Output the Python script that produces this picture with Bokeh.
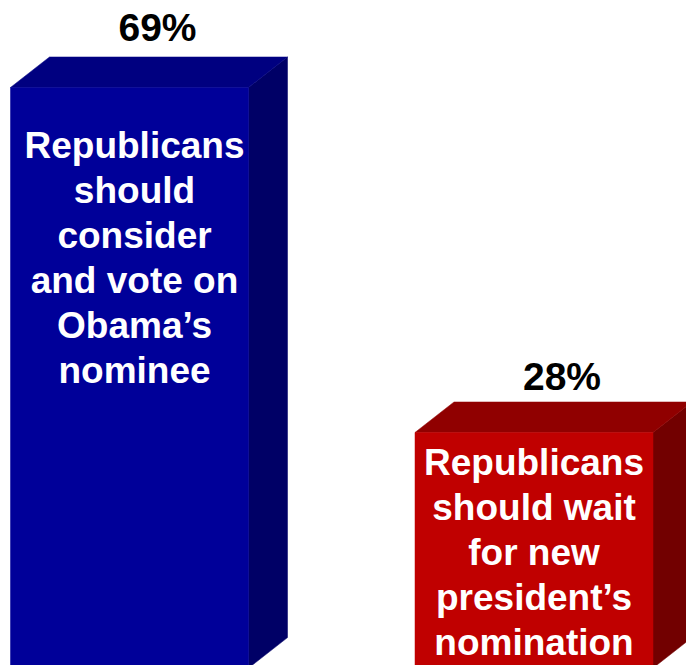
from bokeh.plotting import figure
from bokeh.models import Range1d, ColumnDataSource
from bokeh.core.properties import value
from bokeh.embed import file_html
from bokeh.resources import INLINE

# ---- data ----
categories = ["consider", "wait"]
values = [69, 28]
value_labels = ["69%", "28%"]
inner_lines = [
    ["Republicans", "should", "consider", "and vote on", "Obama\u2019s", "nominee"],
    ["Republicans", "should wait", "for new", "president\u2019s", "nomination"],
]
front_colors = ["#000099", "#C00000"]
top_colors = ["#000080", "#900000"]
side_colors = ["#000066", "#720000"]

# ---- layout / style ----
W, H = 686, 665
PX_X = 404.5           # pixels per category step
PX_Y = 8.415           # pixels per percentage point
x0_px = 129.0          # frame x of first bar front centre
base_px = 2.6          # baseline below frame bottom (px)
bar_w = 238 / PX_X
dx = 39 / PX_X
dy = 30.5 / PX_Y
TEXT_FIX = -13         # compensation for rendered baseline shift

p = figure(width=W, height=H, output_backend="svg", toolbar_location=None,
           min_border=0, min_border_left=0, min_border_right=0,
           min_border_top=0, min_border_bottom=0)
p.x_range = Range1d(-x0_px / PX_X, (W - x0_px) / PX_X)
p.y_range = Range1d(base_px / PX_Y, base_px / PX_Y + H / PX_Y)
p.axis.visible = False
p.grid.visible = False
p.outline_line_color = None
p.background_fill_color = "white"
p.border_fill_color = "white"

xs_front, ys_front, xs_top, ys_top, xs_side, ys_side = [], [], [], [], [], []
for i, v in enumerate(values):
    xl, xr = i - bar_w / 2, i + bar_w / 2
    xs_front.append([xl, xr, xr, xl]); ys_front.append([0, 0, v, v])
    xs_top.append([xl, xl + dx, xr + dx, xr]); ys_top.append([v, v + dy, v + dy, v])
    xs_side.append([xr, xr + dx, xr + dx, xr]); ys_side.append([0, dy, v + dy, v])

p.patches(xs_side, ys_side, fill_color=side_colors, line_color=side_colors, line_width=0.5)
p.patches(xs_top, ys_top, fill_color=top_colors, line_color=top_colors, line_width=0.5)
p.patches(xs_front, ys_front, fill_color=front_colors, line_color=front_colors, line_width=0.5)

font = value("Liberation Sans")

# value labels above bars
label_gaps = [16, 12]
for i, (v, t) in enumerate(zip(values, value_labels)):
    p.text(x=[i + 28 / PX_X], y=[v], text=[t], text_font=font, text_font_style="bold",
           text_font_size="39px", text_color="black", text_align="center",
           text_baseline="alphabetic", y_offset=-(30.5 + label_gaps[i]) + TEXT_FIX)

# inner labels
first_offsets = [71, 43]
x_offsets = [5, 0]
line_step = 45
for i, lines in enumerate(inner_lines):
    for j, line in enumerate(lines):
        p.text(x=[i + x_offsets[i] / PX_X], y=[values[i]], text=[line], text_font=font,
               text_font_style="bold", text_font_size="37px", text_color="white",
               text_align="center", text_baseline="alphabetic",
               y_offset=first_offsets[i] + j * line_step + TEXT_FIX)

open("out.html", "w").write(file_html(p, INLINE))
